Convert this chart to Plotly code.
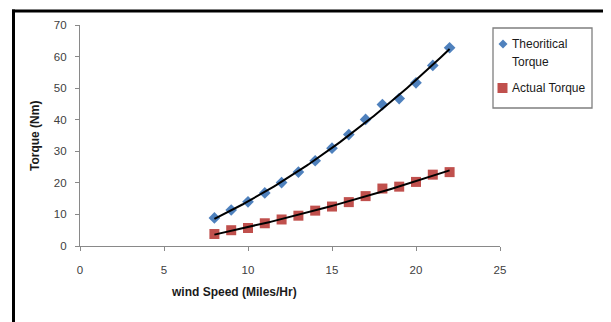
import numpy as np
import plotly.graph_objects as go

wind_speed = [8, 9, 10, 11, 12, 13, 14, 15, 16, 17, 18, 19, 20, 21, 22]
theoretical_torque = [8.9, 11.4, 14.0, 16.8, 20.1, 23.4, 27.0, 31.0, 35.3, 40.1, 44.8, 46.7, 51.7, 57.2, 62.8]
actual_torque = [3.8, 5.0, 5.7, 7.2, 8.4, 9.6, 11.2, 12.5, 13.9, 15.8, 18.2, 18.8, 20.3, 22.6, 23.4]
x_ticks = [0, 5, 10, 15, 20, 25]
y_ticks = [0, 10, 20, 30, 40, 50, 60, 70]
series_names = ["Theoritical<br>Torque", "Actual Torque"]

BLUE = "#4F81BD"
RED = "#C0504D"
FONT = "Liberation Sans"

# the page body has an 8px default margin: size the figure to fit the window
OFF = 8
W, H = 611 - OFF, 322 - OFF
# target plot area in window pixels: x 80..500, y 25..246
L = 80 - OFF
T = 25 - OFF
R = W - (500 - OFF)
B = H - (246 - OFF)
pw = W - L - R
ph = H - T - B


def px_x(p):
    """window pixel x -> paper coordinate"""
    return (p - OFF - L) / pw


def px_y(p):
    """window pixel y -> paper coordinate"""
    return 1 - (p - OFF - T) / ph


fig = go.Figure()

fig.add_trace(go.Scatter(
    x=wind_speed, y=theoretical_torque, mode="markers",
    name=series_names[0],
    marker=dict(symbol="diamond", size=9, color=BLUE),
))
fig.add_trace(go.Scatter(
    x=wind_speed, y=actual_torque, mode="markers",
    name=series_names[1],
    marker=dict(symbol="square", size=10, color=RED),
))

# polynomial (order 2) trendlines
xs = np.linspace(min(wind_speed), max(wind_speed), 100)
for ys in (theoretical_torque, actual_torque):
    c = np.polyfit(wind_speed, ys, 2)
    fig.add_trace(go.Scatter(
        x=xs, y=np.polyval(c, xs), mode="lines",
        line=dict(color="black", width=2), hoverinfo="skip",
    ))

axis_common = dict(
    showgrid=False, zeroline=False, automargin=False,
    showline=True, linecolor="#898989", linewidth=1.3,
    ticks="outside", ticklen=4, tickcolor="#898989", tickwidth=1.3,
    tickfont=dict(family=FONT, size=11.5, color="#404040"),
)

# manual legend (box, symbols, labels)
lg_x0, lg_x1, lg_y0, lg_y1 = 493, 592, 28, 108
dx, dy, dr = 503, 44, 4.5
sx, sy, sr = 502.5, 88, 5
shapes = [
    dict(type="rect", xref="paper", yref="paper",
         x0=px_x(lg_x0), x1=px_x(lg_x1), y0=px_y(lg_y0), y1=px_y(lg_y1),
         line=dict(color="#7f7f7f", width=1.3), fillcolor="white", layer="above"),
    dict(type="path", xref="paper", yref="paper",
         path=(f"M {px_x(dx - dr)} {px_y(dy)} L {px_x(dx)} {px_y(dy - dr)} "
               f"L {px_x(dx + dr)} {px_y(dy)} L {px_x(dx)} {px_y(dy + dr)} Z"),
         fillcolor=BLUE, line=dict(width=0), layer="above"),
    dict(type="rect", xref="paper", yref="paper",
         x0=px_x(sx - sr), x1=px_x(sx + sr), y0=px_y(sy - sr), y1=px_y(sy + sr),
         fillcolor=RED, line=dict(width=0), layer="above"),
    # outer frame lines
    dict(type="line", xref="paper", yref="paper",
         x0=px_x(12), x1=px_x(620), y0=px_y(11), y1=px_y(11),
         line=dict(color="black", width=3)),
    dict(type="line", xref="paper", yref="paper",
         x0=px_x(13.5), x1=px_x(13.5), y0=px_y(9.5), y1=px_y(330),
         line=dict(color="black", width=3)),
]

annotations = [
    dict(text="<b>wind Speed (Miles/Hr)</b>", xref="paper", yref="paper",
         x=px_x(234), y=px_y(292), xanchor="center", yanchor="middle",
         showarrow=False, font=dict(family=FONT, size=12, color="#1a1a1a")),
    dict(text="<b>Torque (Nm)</b>", xref="paper", yref="paper",
         x=px_x(35), y=px_y(136), xanchor="center", yanchor="middle", textangle=-90,
         showarrow=False, font=dict(family=FONT, size=12, color="#1a1a1a")),
    dict(text="Theoritical", xref="paper", yref="paper",
         x=px_x(510), y=px_y(44), xanchor="left", yanchor="middle",
         showarrow=False, font=dict(family=FONT, size=12, color="#1a1a1a")),
    dict(text="Torque", xref="paper", yref="paper",
         x=px_x(510), y=px_y(62), xanchor="left", yanchor="middle",
         showarrow=False, font=dict(family=FONT, size=12, color="#1a1a1a")),
    dict(text="Actual Torque", xref="paper", yref="paper",
         x=px_x(510), y=px_y(88), xanchor="left", yanchor="middle",
         showarrow=False, font=dict(family=FONT, size=12, color="#1a1a1a")),
]

fig.update_layout(
    width=W, height=H,
    margin=dict(l=L, r=R, t=T, b=B),
    paper_bgcolor="white", plot_bgcolor="white",
    font=dict(family=FONT, size=11, color="#404040"),
    showlegend=False,
    xaxis=dict(range=[0, 25], tickvals=x_ticks, ticklabelstandoff=9, **axis_common),
    yaxis=dict(range=[0, 70], tickvals=y_ticks, ticklabelstandoff=6, **axis_common),
    shapes=shapes,
    annotations=annotations,
)

fig.write_html("out.html")
